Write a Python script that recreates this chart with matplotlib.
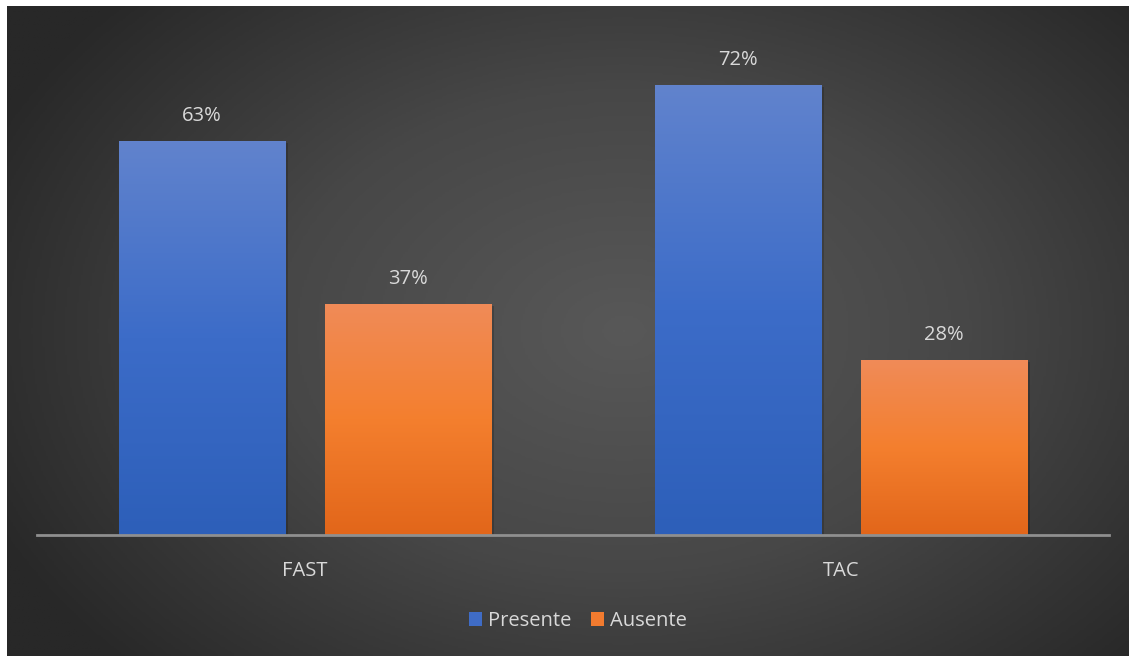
import numpy as np
import matplotlib
matplotlib.use("Agg")
import matplotlib.pyplot as plt
from matplotlib.colors import LinearSegmentedColormap
from matplotlib.patches import Rectangle, Patch

categories = ["FAST", "TAC"]
series_names = ["Presente", "Ausente"]
presente = [63, 72]
ausente = [37, 28]

plt.rcParams['font.family'] = ['Open Sans', 'DejaVu Sans']
TXT = "#d9d9d9"
FS = 14.5

W, H, DPI = 1129, 656, 100
fig = plt.figure(figsize=(W / DPI, H / DPI), dpi=DPI)
fig.patch.set_facecolor("white")

# background radial gradient (chart area, leaving thin white strip top/left)
bg = fig.add_axes([7 / W, 0, 1 - 7 / W, 1 - 6 / H])
bg.set_axis_off()
yy, xx = np.mgrid[0:1:300j, 0:1:500j]
r = np.sqrt(((xx - 0.55) / 0.62) ** 2 + ((yy - 0.5) / 0.75) ** 2)
val = np.clip(r, 0, 1)
bgcmap = LinearSegmentedColormap.from_list("bg", ["#585858", "#474747", "#282828"])
bg.imshow(val, cmap=bgcmap, aspect="auto", extent=[0, 1, 0, 1], vmin=0, vmax=1)
bg.set_xlim(0, 1); bg.set_ylim(0, 1)

# main axes: baseline at y=535, x from 37 to 1109, 80% top at y=35
ax = fig.add_axes([37 / W, (H - 535) / H, (1109 - 37) / W, 500 / H])
ax.set_facecolor("none")
for s in ["top", "right", "left"]:
    ax.spines[s].set_visible(False)
ax.spines["bottom"].set_color("#8f8f8f")
ax.spines["bottom"].set_linewidth(2)
ax.spines["bottom"].set_zorder(5)
ax.set_yticks([])
x = np.arange(len(categories))
ax.set_xticks(x)
ax.set_xticklabels(categories, color=TXT, fontsize=FS)
ax.tick_params(axis="x", length=0, pad=19)

width = 0.31
offset = 0.192
blue_cmap = LinearSegmentedColormap.from_list("b", ["#2d5fb9", "#3c6cc8", "#6183cd"])
orange_cmap = LinearSegmentedColormap.from_list("o", ["#e2661a", "#f47f2e", "#f08b58"])
grad = np.linspace(0, 1, 256).reshape(-1, 1)

for vals, off, cmap, name in [(presente, -offset, blue_cmap, series_names[0]),
                               (ausente, offset, orange_cmap, series_names[1])]:
    bars = ax.bar(x + off, vals, width, color="none", edgecolor="none", label=name)
    for b, v in zip(bars, vals):
        x0, w = b.get_x(), b.get_width()
        sh = Rectangle((x0 + 0.006, 0), w, v - 0.3, facecolor="black", alpha=0.18,
                       edgecolor="none", zorder=1)
        ax.add_patch(sh)
        im = ax.imshow(grad, cmap=cmap, aspect="auto", origin="lower",
                       extent=[x0, x0 + w, 0, v], zorder=2)
        im.set_clip_path(b)
        ax.text(x0 + w / 2, v + 2.4, f"{v}%", ha="center", va="bottom",
                color=TXT, fontsize=FS)

ax.set_xlim(-0.5, 1.5)
ax.set_ylim(0, 80)

handles = [Patch(facecolor="#3f6cc6", edgecolor="none"),
           Patch(facecolor="#f27b2f", edgecolor="none")]
leg = fig.legend(handles, series_names, loc="center", bbox_to_anchor=(578 / W, 1 - 621 / H),
                 ncol=2, frameon=False, fontsize=FS, handlelength=0.65, handleheight=0.75,
                 handletextpad=0.3, columnspacing=1.0)
for t in leg.get_texts():
    t.set_color(TXT)

fig.savefig("out.png", dpi=DPI, facecolor=fig.get_facecolor())
